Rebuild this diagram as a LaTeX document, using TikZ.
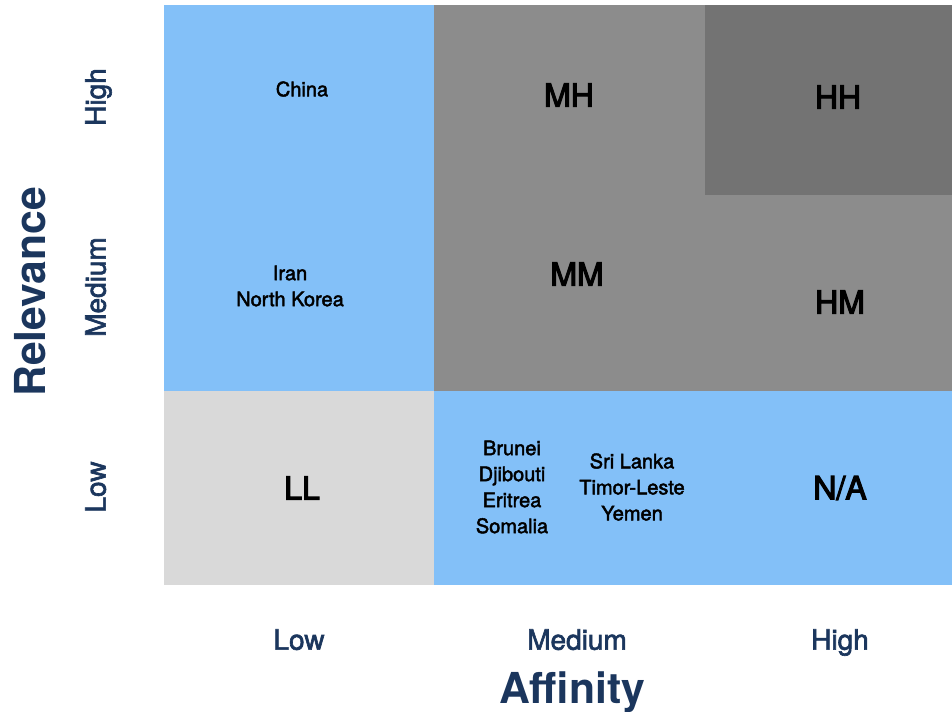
\documentclass[tikz,border=0pt]{standalone}
\usepackage{fontspec}
\setmainfont{TeX Gyre Heros}
\newfontfamily\medfont[FakeBold=2.2]{TeX Gyre Heros}
\newfontfamily\semifont[FakeBold=3.5]{TeX Gyre Heros}
\definecolor{cblue}{HTML}{83C0F8}
\definecolor{cgrey}{HTML}{8C8C8C}
\definecolor{cdark}{HTML}{737373}
\definecolor{clight}{HTML}{D9D9D9}
\definecolor{navy}{HTML}{1B365D}
\begin{document}
\begin{tikzpicture}[x=0.75pt,y=-0.75pt,
  country/.style={font=\fontsize{15}{19.5}\medfont, text=black, align=center, inner sep=0pt},
  cell/.style={font=\fontsize{24}{28}\semifont, text=black, inner sep=0pt},
  axislab/.style={font=\fontsize{21}{25}\medfont, text=navy, inner sep=0pt, text height=15pt, text depth=5pt},
  axistitle/.style={font=\fontsize{32}{36}\selectfont\bfseries, text=navy, inner sep=0pt}]
\useasboundingbox (0,0) rectangle (952,711);
% cells
\fill[cblue] (164,5) rectangle (434,391);
\fill[cgrey] (434,5) rectangle (952,391);
\fill[cdark] (705,5) rectangle (952,195);
\fill[clight] (164,391) rectangle (434,585);
\fill[cblue] (434,391) rectangle (952,585);
% cell texts
\node[country] (china) at (302,89) {China};
\node[country] (irnk) at (290,286) {Iran\\North Korea};
\node[cell] (mh) at (569,95) {MH};
\node[cell] (hh) at (838,97) {HH};
\node[cell] (mm) at (577,274) {MM};
\node[cell] (hm) at (840,302) {HM};
\node[cell] (ll) at (302,488) {LL};
\node[cell] (na) at (840,488) {N/A};
\node[country] (left) at (512,487) {Brunei\\Djibouti\\Eritrea\\Somalia};
\node[country] (right) at (632,487) {Sri Lanka\\Timor-Leste\\Yemen};
% axis labels
\node[axislab, rotate=90] (yhigh) at (99,97) {High};
\node[axislab, rotate=90] (ymed) at (99,287) {Medium};
\node[axislab, rotate=90] (ylow) at (99,487) {Low};
\node[axistitle, rotate=90] (rel) at (30,292) {Relevance};
\node[axislab] (xlow) at (299,643) {Low};
\node[axislab] (xmed) at (577,643) {Medium};
\node[axislab] (xhigh) at (840,643) {High};
\node[axistitle] (aff) at (572,692) {Affinity};
\end{tikzpicture}
\end{document}
